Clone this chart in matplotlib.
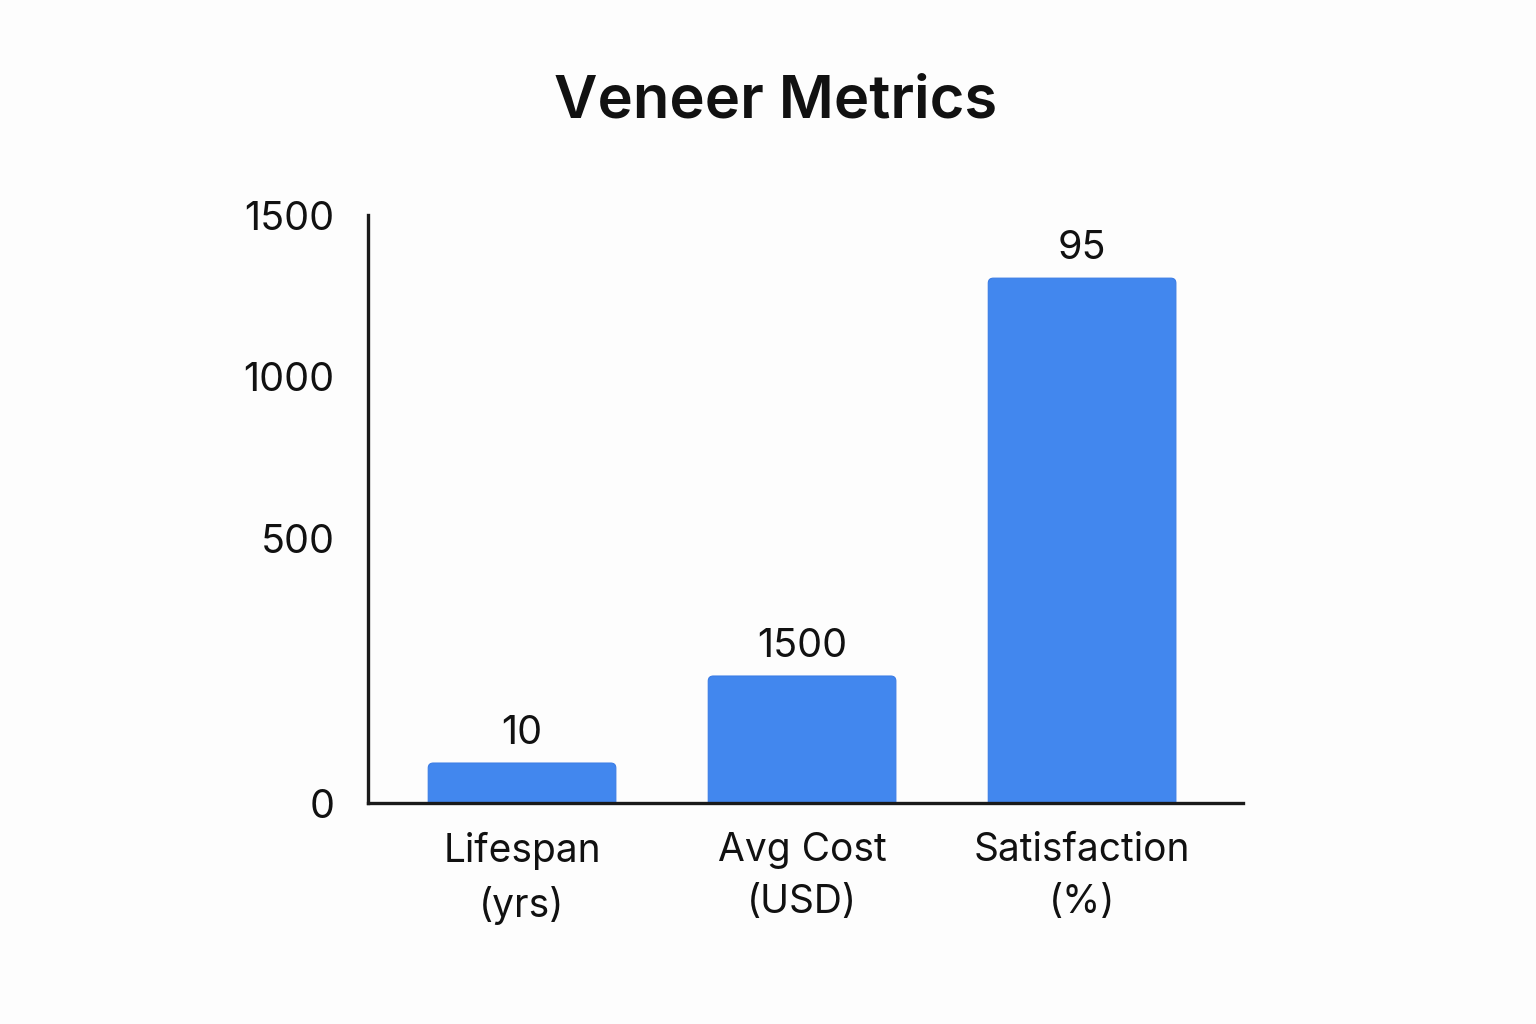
import matplotlib
matplotlib.use("Agg")
import matplotlib.pyplot as plt
from matplotlib.patches import FancyBboxPatch

plt.rcParams['font.family'] = ['Inter', 'DejaVu Sans']

# Data
categories = ["Lifespan\n(yrs)", "Avg Cost\n(USD)", "Satisfaction\n(%)"]
bar_heights = [102, 324, 1339]          # drawn bar heights on the axis scale
bar_labels = ["10", "1500", "95"]       # labels printed above the bars
tick_values = [0, 676, 1087, 1500]      # where the axis labels sit
tick_labels = ["0", "500", "1000", "1500"]

fig = plt.figure(figsize=(15.36, 10.24), dpi=100)
fig.patch.set_facecolor("#fdfdfd")
ax = fig.add_axes([0.2396, 0.2158, 0.5697, 0.5742])
ax.set_facecolor("none")

ax.set_xlim(-0.55, 2.575)
ax.set_ylim(0, 1500)

x = list(range(len(categories)))
bars = ax.bar(x, bar_heights, width=0.67, color="#4287EE", zorder=2)

# replace with slightly rounded tops
rad_x = 0.018
rad_aspect = 12.75 / 0.018
for b in bars:
    bx, by = b.get_x(), b.get_y()
    bw, bh = b.get_width(), b.get_height()
    p = FancyBboxPatch((bx, by - 20), bw, bh + 20,
                       boxstyle=f"round,pad=0,rounding_size={rad_x}",
                       mutation_aspect=rad_aspect,
                       facecolor="#4287EE", edgecolor="#3a7ce6", linewidth=0.8,
                       zorder=2, transform=ax.transData, clip_on=True)
    ax.add_patch(p)
    b.set_visible(False)

for xi, h, lab in zip(x, bar_heights, bar_labels):
    ax.annotate(lab, (xi, h), xytext=(0, 8), textcoords="offset points",
                ha="center", va="bottom", fontsize=28.5, color="#111111")

ax.set_yticks(tick_values)
ax.set_yticklabels(tick_labels)
ax.set_xticks(x)
ax.set_xticklabels(categories, linespacing=1.5)

ax.tick_params(axis="y", length=0, pad=24, labelsize=28.5, labelcolor="#111111")
ax.tick_params(axis="x", length=0, pad=21, labelsize=28, labelcolor="#111111")

for s in ["top", "right"]:
    ax.spines[s].set_visible(False)
for s in ["left", "bottom"]:
    ax.spines[s].set_linewidth(2.4)
    ax.spines[s].set_color("#1a1a1a")
ax.spines["bottom"].set_zorder(3)

fig.text(0.505, 0.900, "Veneer Metrics", ha="center", va="center",
         fontsize=43, fontweight="semibold", color="#111111")

fig.savefig("out.png", dpi=100, facecolor=fig.get_facecolor())
